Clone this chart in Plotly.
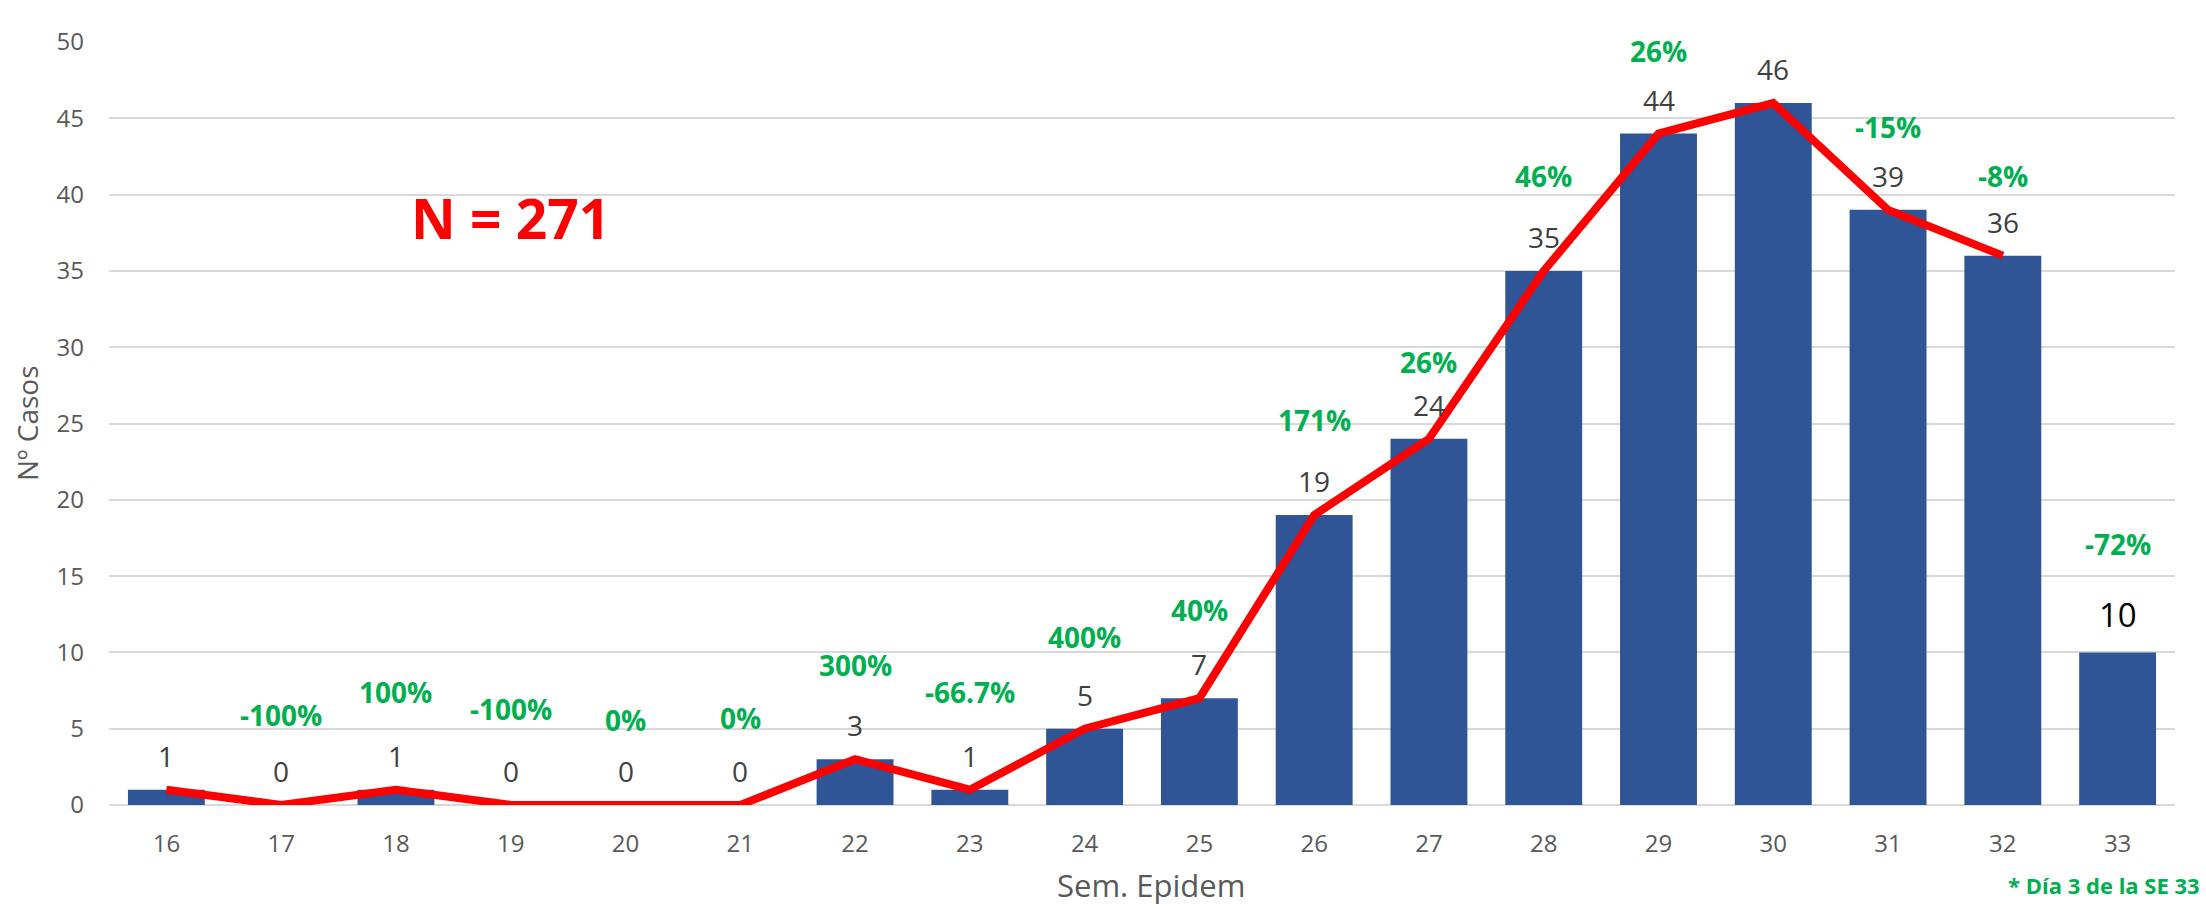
import plotly.graph_objects as go

weeks = ["16", "17", "18", "19", "20", "21", "22", "23", "24", "25",
         "26", "27", "28", "29", "30", "31", "32", "33"]
cases = [1, 0, 1, 0, 0, 0, 3, 1, 5, 7, 19, 24, 35, 44, 46, 39, 36, 10]
# trend line stops at week 32 (week 33 incomplete)
trend_weeks = weeks[:-1]
trend_cases = cases[:-1]
pct_labels = ["-100%", "100%", "-100%", "0%", "0%", "300%", "-66.7%", "400%",
              "40%", "171%", "26%", "46%", "26%", "4.5%", "-15%", "-8%", "-72%"]
pct_weeks = weeks[1:]
# vertical placement (in axis units) of the manually placed % text boxes
pct_label_y = [5.9, 7.4, 6.3, 5.6, 5.7, 9.2, 7.4, 11.0, 12.8, 25.2, 29.0,
               41.2, 49.4, 51.3, 44.4, 41.2, 17.1]

FONT = "Open Sans, Liberation Sans, sans-serif"
GRAY = "#595959"
GREEN = "#00B050"

fig = go.Figure()
fig.add_trace(go.Bar(x=weeks, y=cases, marker=dict(color="#2F5597", line=dict(width=0)),
                     showlegend=False, hoverinfo="x+y"))
fig.add_trace(go.Scatter(x=trend_weeks, y=trend_cases, mode="lines",
                         line=dict(color="#FF0000", width=8), cliponaxis=False,
                         showlegend=False))

annotations = []
for i, (w, v) in enumerate(zip(weeks, cases)):
    last = i == len(weeks) - 1
    annotations.append(dict(x=weeks.index(w), y=v, xref="x", yref="y", text=str(v),
                            showarrow=False, yanchor="middle", yshift=38 if last else 34,
                            font=dict(family=FONT, size=33 if last else 28,
                                      color="#000000" if last else "#404040")))
for w, t, yy in zip(pct_weeks, pct_labels, pct_label_y):
    annotations.append(dict(x=weeks.index(w), y=yy, xref="x", yref="y",
                            text="<b>%s</b>" % t, showarrow=False, yanchor="middle",
                            font=dict(family=FONT, size=28, color=GREEN)))
annotations.append(dict(x=510, y=218, xref="paper", yref="paper", text="<b>N = 271</b>",
                        showarrow=False, xanchor="center", yanchor="middle",
                        font=dict(family=FONT, size=55, color="#FF0000")))
annotations.append(dict(x=2202, y=885, xref="paper", yref="paper",
                        text="<b>* Día 3 de la SE 33</b>", showarrow=False,
                        xanchor="right", yanchor="middle",
                        font=dict(family=FONT, size=22, color=GREEN)))
annotations.append(dict(x=1151, y=908, xref="paper", yref="paper", text="Sem. Epidem",
                        showarrow=False, xanchor="center", yanchor="bottom",
                        font=dict(family=FONT, size=31, color=GRAY)))
annotations.append(dict(x=27, y=423, xref="paper", yref="paper", text="Nº Casos",
                        showarrow=False, textangle=-90, xanchor="center", yanchor="middle",
                        font=dict(family=FONT, size=28, color=GRAY)))

# convert pixel-positioned paper annotations to paper fractions
W, H = 2206, 909
ML, MR, MT, MB = 109, 31, 42, 104
pw, ph = W - ML - MR, H - MT - MB
for a in annotations:
    if a["xref"] == "paper":
        a["x"] = (a["x"] - ML) / pw
        a["y"] = (H - MB - a["y"]) / ph

fig.update_layout(
    width=W, height=H,
    margin=dict(l=ML, r=MR, t=MT, b=MB, pad=0),
    paper_bgcolor="white", plot_bgcolor="white",
    bargap=0.33,
    annotations=annotations,
    xaxis=dict(type="category", categoryorder="array", categoryarray=weeks,
               range=[-0.5, len(weeks) - 0.5],
               showgrid=False, showline=False, zeroline=False,
               ticks="", ticklabelstandoff=22,
               tickfont=dict(family=FONT, size=24, color=GRAY)),
    yaxis=dict(range=[0, 50], tick0=0, dtick=5, showgrid=True, gridcolor="#D9D9D9",
               gridwidth=2, zeroline=True, zerolinecolor="#D9D9D9", zerolinewidth=2,
               showline=False, ticks="", ticklabelstandoff=24,
               tickfont=dict(family=FONT, size=24, color=GRAY)),
)

fig.write_html("out.html", config={"displayModeBar": False},
               post_script="document.body.style.margin='0';"
                           "document.body.style.overflow='hidden';")
